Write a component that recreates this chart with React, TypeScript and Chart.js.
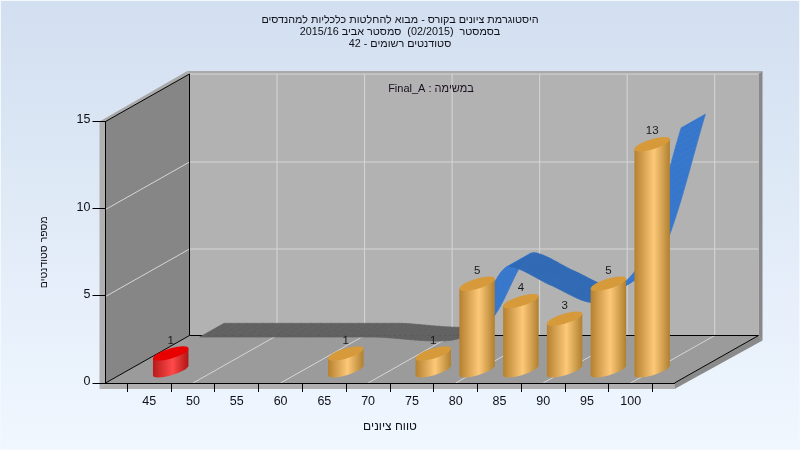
import React, { useEffect, useRef } from "react";
import { Chart, registerables } from "chart.js";

Chart.register(...registerables);

const gradeBins = [45, 65, 75, 80, 85, 90, 95, 100];
const studentCounts = [1, 1, 1, 5, 4, 3, 5, 13];
const barKinds = ["fail", "pass", "pass", "pass", "pass", "pass", "pass", "pass"];
const ribbonKinds = ["gray", "gray", "blue", "blue", "blue", "blue", "blue"];
const titleLines = [
  "היסטוגרמת ציונים בקורס - מבוא להחלטות כלכליות למהנדסים",
  "בסמסטר  (02/2015)  סמסטר אביב 2015/16",
  "סטודנטים רשומים - 42",
];
const noteText = "במשימה : Final_A";
const xAxisTitle = "טווח ציונים";
const yAxisTitle = "מספר סטודנטים";
const FONT = "'Liberation Sans', Arial, sans-serif";

const DEPTH = { x: 84, y: -47.5 };
const BAR_DEPTH = 0.255;
const RIBBON_FRONT = 0.6;
const RIBBON_BACK = 0.89;

function poly(ctx: CanvasRenderingContext2D, pts: number[][], fill: string) {
  ctx.beginPath();
  pts.forEach((p, i) => (i ? ctx.lineTo(p[0], p[1]) : ctx.moveTo(p[0], p[1])));
  ctx.closePath();
  ctx.fillStyle = fill;
  ctx.fill();
}

function seg(ctx: CanvasRenderingContext2D, a: number[], b: number[], color: string) {
  ctx.beginPath();
  ctx.moveTo(a[0], a[1]);
  ctx.lineTo(b[0], b[1]);
  ctx.strokeStyle = color;
  ctx.lineWidth = 1;
  ctx.stroke();
}

function bez(a: number, b: number, c: number, d: number, t: number) {
  const u = 1 - t;
  return u * u * u * a + 3 * u * u * t * b + 3 * u * t * t * c + t * t * t * d;
}

const box3d = {
  id: "box3d",
  beforeDraw(chart: any) {
    const { ctx, width, height, chartArea: ca, scales } = chart;
    const { left: L, right: R, top: T, bottom: B } = ca;
    const dx = DEPTH.x;
    const dy = DEPTH.y;
    const bg = ctx.createLinearGradient(0, 0, 0, height);
    bg.addColorStop(0, "#d2dff0");
    bg.addColorStop(1, "#f0f7ff");
    ctx.save();
    ctx.fillStyle = "#f4f8fd";
    ctx.fillRect(0, 0, width, height);
    ctx.fillStyle = bg;
    ctx.fillRect(1, 1, width - 2, height - 2);

    const b = 6;
    // outer bands
    poly(ctx, [[L - b, T], [L + dx - 3, T + dy - 2.5], [L + dx, T + dy], [L, T]], "#a9a9a9");
    poly(ctx, [[L + dx - 3, T + dy - 3], [R + dx + 4, T + dy - 3], [R + dx, T + dy], [L + dx, T + dy]], "#a9a9a9");
    poly(ctx, [[R + dx + 4, T + dy - 3], [R + dx + 4, B + dy + 5], [R + dx, B + dy], [R + dx, T + dy]], "#888888");
    poly(ctx, [[L - b, T], [L, T], [L, B], [L - b, B + b]], "#b0b0b0");
    poly(ctx, [[L - b, B + b], [R, B + b], [R, B], [L, B]], "#b0b0b0");
    poly(ctx, [[R, B], [R + dx, B + dy], [R + dx + 4, B + dy + 5], [R, B + b]], "#8a8a8a");
    // walls
    poly(ctx, [[L + dx, T + dy], [R + dx, T + dy], [R + dx, B + dy], [L + dx, B + dy]], "#b2b2b2");
    poly(ctx, [[L, T], [L + dx, T + dy], [L + dx, B + dy], [L, B]], "#868686");
    poly(ctx, [[L, B], [L + dx, B + dy], [R + dx, B + dy], [R, B]], "#9b9b9b");

    // gridlines
    const grid = "#d6d6d6";
    scales.y.ticks.forEach((t: any) => {
      const y = Math.round(scales.y.getPixelForValue(t.value)) + 0.5;
      if (t.value > 0) {
        seg(ctx, [L + dx, y + dy], [R + dx, y + dy], grid);
        if (t.value < 15) seg(ctx, [L, y], [L + dx, y + dy], grid);
      }
    });
    scales.x.ticks.forEach((t: any) => {
      if (t.value >= 50 && t.value <= 100 && t.value % 10 === 0) {
        const x = scales.x.getPixelForValue(t.value);
        seg(ctx, [x, B], [x + dx, B + dy], grid);
        seg(ctx, [x + dx, T + dy], [x + dx, B + dy], grid);
      }
    });
    // edges
    const k = "#000000";
    seg(ctx, [L, T], [L + dx, T + dy], k);
    seg(ctx, [L + dx, T + dy], [L + dx, B + dy], k);
    seg(ctx, [L, B], [L + dx, B + dy], k);
    seg(ctx, [L + dx, B + dy], [R + dx, B + dy], k);
    seg(ctx, [R, B], [R + dx, B + dy], k);
    ctx.restore();
  },
  afterDatasetsDraw(chart: any) {
    const { ctx, chartArea } = chart;
    ctx.save();
    ctx.direction = "rtl";
    ctx.font = `11px ${FONT}`;
    ctx.fillStyle = "#1a1020";
    ctx.textAlign = "center";
    ctx.textBaseline = "middle";
    ctx.fillText(noteText, (chartArea.left + chartArea.right) / 2 + 41, chartArea.top - 32.5);

    // ribbon
    const lineMeta = chart.getDatasetMeta(1);
    lineMeta.dataset.updateControlPoints(chartArea);
    const pts = lineMeta.data;
    const fx = DEPTH.x * RIBBON_FRONT;
    const fy = DEPTH.y * RIBBON_FRONT;
    const bx = DEPTH.x * RIBBON_BACK;
    const by = DEPTH.y * RIBBON_BACK;
    for (let i = 0; i < pts.length - 1; i++) {
      const a = pts[i];
      const c = pts[i + 1];
      const N = 20;
      for (let j = 0; j < N; j++) {
        const x0 = bez(a.x, a.cp2x, c.cp1x, c.x, j / N);
        const y0 = bez(a.y, a.cp2y, c.cp1y, c.y, j / N);
        const x1 = bez(a.x, a.cp2x, c.cp1x, c.x, (j + 1) / N);
        const y1 = bez(a.y, a.cp2y, c.cp1y, c.y, (j + 1) / N);
        let col: string;
        if (ribbonKinds[i] === "gray") col = "#616161";
        else col = y1 < y0 ? "#3677cc" : "#2f69b5";
        const q = [[x0 + fx, y0 + fy], [x1 + fx, y1 + fy], [x1 + bx, y1 + by], [x0 + bx, y0 + by]];
        poly(ctx, q, col);
        ctx.strokeStyle = col;
        ctx.lineWidth = 0.6;
        ctx.stroke();
      }
    }

    // cylinders
    const barMeta = chart.getDatasetMeta(0);
    const ox = DEPTH.x * BAR_DEPTH;
    const oy = DEPTH.y * BAR_DEPTH;
    const shear = -5 / 18;
    barMeta.data.forEach((el: any, i: number) => {
      const a = el.width / 2;
      const e = 5.2;
      const cx = el.x + ox;
      const top = el.y + oy;
      const base = el.base + oy;
      const red = barKinds[i] === "fail";
      ctx.save();
      ctx.transform(1, shear, 0, 1, cx, 0);
      const g = ctx.createLinearGradient(-a, 0, a, 0);
      if (red) {
        g.addColorStop(0, "#b81a1a");
        g.addColorStop(0.55, "#ff4a4a");
        g.addColorStop(1, "#b01414");
      } else {
        g.addColorStop(0, "#b5812f");
        g.addColorStop(0.55, "#fdc979");
        g.addColorStop(1, "#b0802f");
      }
      ctx.beginPath();
      ctx.moveTo(-a, top);
      ctx.lineTo(-a, base);
      ctx.ellipse(0, base, a, e, 0, Math.PI, 0, true);
      ctx.lineTo(a, top);
      ctx.closePath();
      ctx.fillStyle = g;
      ctx.fill();
      ctx.beginPath();
      ctx.ellipse(0, top, a, e, 0, 0, Math.PI * 2);
      ctx.fillStyle = red ? "#e80000" : "#d69a3a";
      ctx.fill();
      ctx.restore();
      ctx.font = `11.5px ${FONT}`;
      ctx.fillStyle = "#1a1a1a";
      ctx.fillText(String(studentCounts[i]), cx, top - 13);
    });
    ctx.restore();
  },
};

export default function App() {
  const ref = useRef<HTMLCanvasElement>(null);
  useEffect(() => {
    document.body.style.margin = "0";
    const chart = new Chart(ref.current as HTMLCanvasElement, {
      type: "bar",
      data: {
        datasets: [
          {
            type: "bar",
            label: "סטודנטים",
            data: gradeBins.map((x, i) => ({ x, y: studentCounts[i] })),
            backgroundColor: "rgba(0,0,0,0)",
            borderWidth: 0,
            categoryPercentage: 1,
            barPercentage: 0.81,
          },
          {
            type: "line",
            label: "רצועה",
            data: gradeBins.map((x, i) => ({ x, y: studentCounts[i] })),
            borderColor: "rgba(0,0,0,0)",
            backgroundColor: "rgba(0,0,0,0)",
            borderWidth: 0,
            pointRadius: 0,
            tension: 0.25,
            capBezierPoints: false,
          },
        ],
      } as any,
      options: {
        responsive: false,
        animation: false,
        devicePixelRatio: 1,
        layout: { padding: { left: 0, right: 0, top: 14.5, bottom: 0 } },
        plugins: {
          legend: { display: false },
          tooltip: { enabled: false },
          title: {
            display: true,
            text: titleLines,
            color: "#101018",
            font: { family: FONT, size: 10.8, weight: "normal", lineHeight: 1.111 },
            padding: { top: 0, bottom: 71 },
          },
        },
        scales: {
          x: {
            type: "linear",
            min: 40,
            max: 105,
            offset: false,
            afterFit: (s: any) => {
              s.height = 67;
            },
            ticks: {
              stepSize: 5,
              autoSkip: false,
              maxRotation: 0,
              padding: 2,
              color: "#101018",
              font: { family: FONT, size: 12.5 },
              callback: (v: any) => (v === 40 || v === 105 ? "" : String(v)),
            },
            grid: { drawOnChartArea: false, color: "#000000", tickLength: 9 },
            border: { color: "#000000", display: true },
            title: {
              display: true,
              text: xAxisTitle,
              color: "#101018",
              font: { family: FONT, size: 12 },
              padding: { top: 0, bottom: 16 },
            },
          },
          y: {
            min: 0,
            max: 15,
            afterFit: (s: any) => {
              s.width = 105.5;
            },
            ticks: {
              stepSize: 5,
              padding: 2,
              labelOffset: -1.5,
              color: "#101018",
              font: { family: FONT, size: 12.5 },
            },
            grid: { drawOnChartArea: false, color: "#000000", tickLength: 13 },
            border: { color: "#000000", display: true },
            title: {
              display: true,
              text: yAxisTitle,
              color: "#101018",
              font: { family: FONT, size: 10.5 },
              padding: { top: 37.7, bottom: 0 },
            },
          },
          spacer: {
            position: "right",
            display: true,
            afterFit: (s: any) => {
              s.width = 125.5;
            },
            ticks: { display: false },
            grid: { display: false },
            border: { display: false },
          },
        },
      },
      plugins: [box3d],
    } as any);
    return () => chart.destroy();
  }, []);
  return (
    <div style={{ position: "absolute", left: 0, top: 0, width: 800, height: 450 }}>
      <canvas ref={ref} width={800} height={450} style={{ display: "block", direction: "rtl" }} />
    </div>
  );
}
